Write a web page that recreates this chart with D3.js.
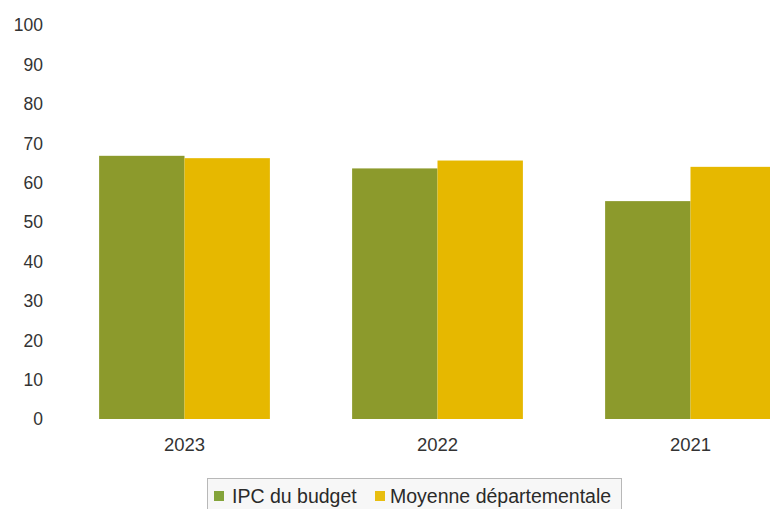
<!DOCTYPE html>
<html>
<head>
<meta charset="utf-8">
<script src="https://cdn.jsdelivr.net/npm/d3@7/dist/d3.min.js"></script>
<style>
  html, body { margin: 0; padding: 0; background: #ffffff; overflow: hidden; }
  svg { display: block; font-family: "Liberation Sans", Arial, sans-serif; }
</style>
</head>
<body>
<svg id="chart" width="770" height="509"></svg>
<script>
// Years shown along the x axis
const years = ["2023", "2022", "2021"];
// Series values
const ipcBudget = [66.8, 63.6, 55.3];
const moyenneDep = [66.2, 65.6, 64.0];
const seriesNames = ["IPC du budget", "Moyenne départementale"];
const seriesColors = ["#8c9a2c", "#e6b800"];
const legendColors = ["#84a43a", "#e8be10"];
// Y axis ticks
const yTicks = [0, 10, 20, 30, 40, 50, 60, 70, 80, 90, 100];

const svg = d3.select("#chart");

const x0 = d3.scaleBand().domain(years).range([58, 817]).paddingInner(0.325).paddingOuter(0.1625);
const x1 = d3.scaleBand().domain([0, 1]).range([0, x0.bandwidth()]);
const y = d3.scaleLinear().domain([0, 100]).range([419, 25]);

// Y axis labels only (no lines)
const yAxis = d3.axisLeft(y).tickValues(yTicks).tickSize(0).tickPadding(0);
const gy = svg.append("g").attr("transform", "translate(43,0)").call(yAxis);
gy.select(".domain").remove();
gy.selectAll("text")
  .attr("font-size", 17.5)
  .attr("fill", "#333")
  .attr("font-family", "Liberation Sans, Arial, sans-serif")
  .attr("dy", "0.34em");

// Bars
const values = [ipcBudget, moyenneDep];
const groups = svg.append("g").selectAll("g")
  .data(years)
  .join("g")
  .attr("transform", d => `translate(${x0(d)},0)`);

groups.selectAll("rect")
  .data((d, i) => values.map((v, s) => ({ s, v: v[i] })))
  .join("rect")
  .attr("x", d => x1(d.s))
  .attr("width", x1.bandwidth())
  .attr("y", d => y(d.v))
  .attr("height", d => y(0) - y(d.v))
  .attr("fill", d => seriesColors[d.s]);

// X axis labels
const xAxis = d3.axisBottom(x0).tickSize(0).tickPadding(0);
const gx = svg.append("g").attr("transform", "translate(0,445)").call(xAxis);
gx.select(".domain").remove();
gx.selectAll("text")
  .attr("font-size", 18.5)
  .attr("fill", "#333")
  .attr("font-family", "Liberation Sans, Arial, sans-serif")
  .attr("dy", "0.35em");

// Legend
const legend = svg.append("g");
legend.append("rect")
  .attr("x", 207.5).attr("y", 478.5)
  .attr("width", 414).attr("height", 31)
  .attr("fill", "#f7f7f7")
  .attr("stroke", "#b8b8b8");

const legendItems = [
  { sx: 214, tx: 232 },
  { sx: 375, tx: 390 }
];
legendItems.forEach((it, i) => {
  legend.append("rect")
    .attr("x", it.sx).attr("y", 491)
    .attr("width", 10).attr("height", 10)
    .attr("fill", legendColors[i]);
  legend.append("text")
    .attr("x", it.tx).attr("y", 496)
    .attr("dy", "0.35em")
    .attr("font-size", 19.5)
    .attr("fill", "#2a2a2a")
    .text(seriesNames[i]);
});
</script>
</body>
</html>
